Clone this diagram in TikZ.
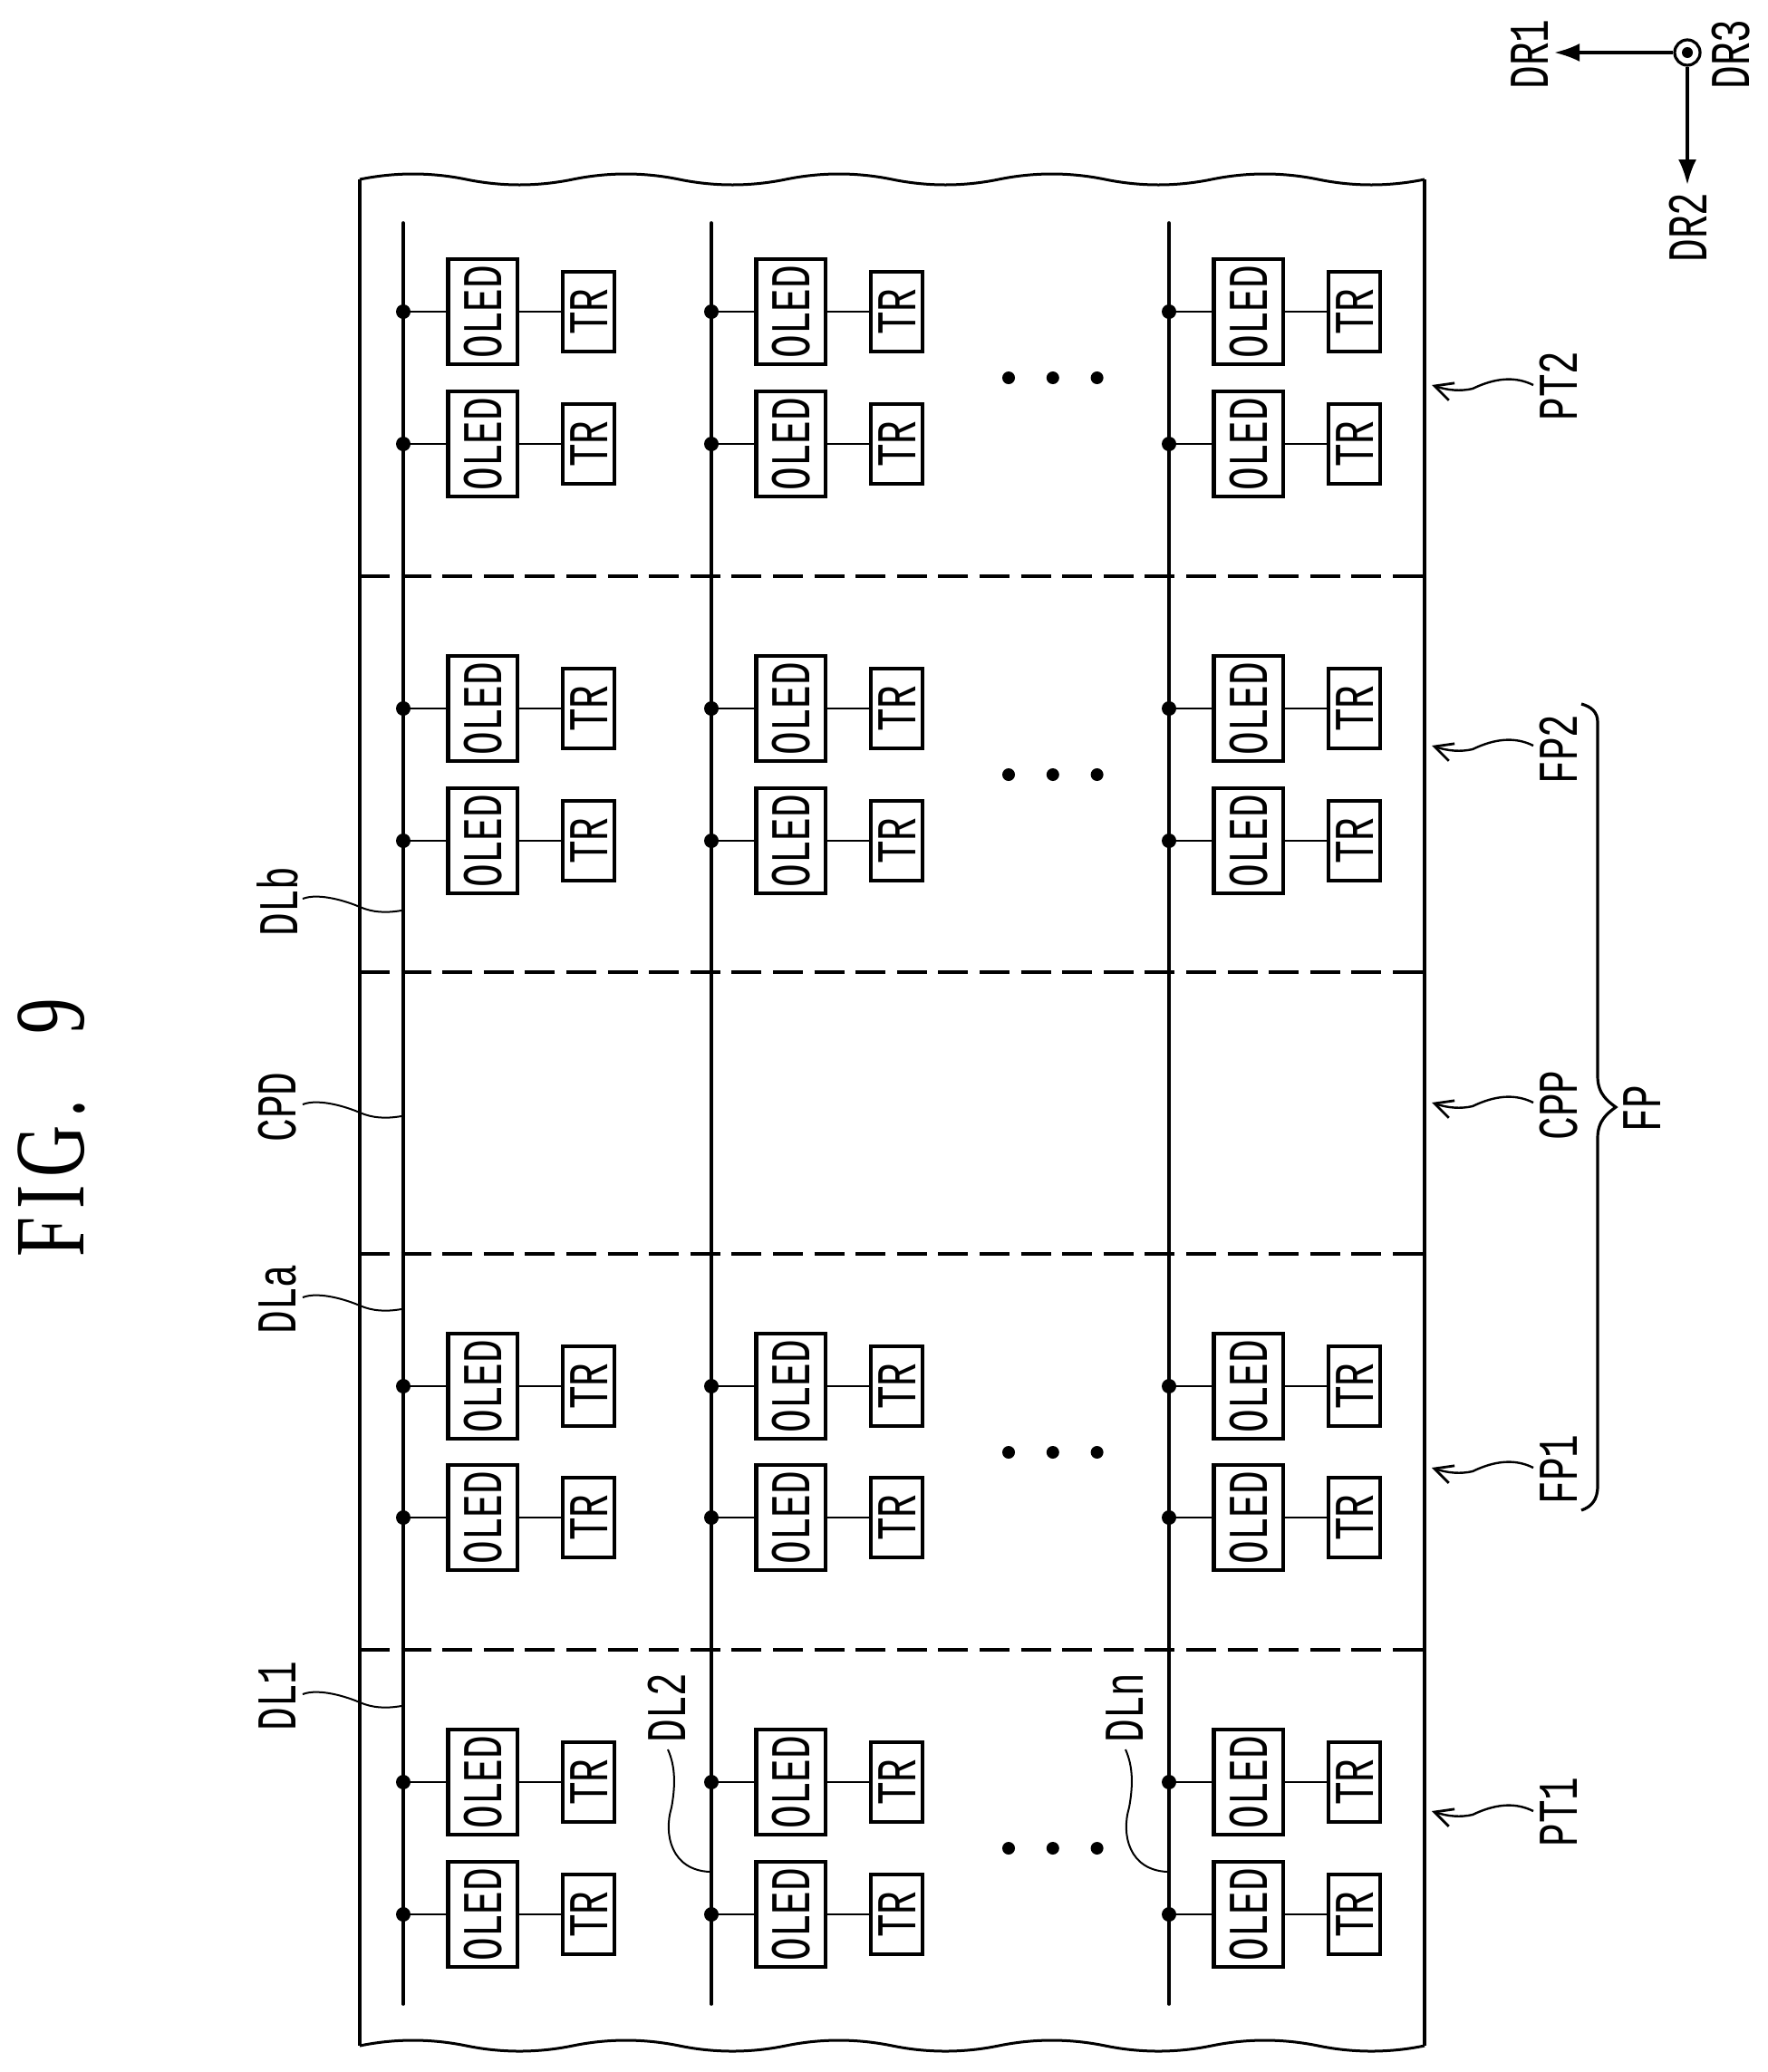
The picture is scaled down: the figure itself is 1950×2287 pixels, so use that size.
\documentclass[tikz,border=0pt]{standalone}
\usepackage{fontspec}
\usepackage{tikz}
\usetikzlibrary{positioning, arrows.meta}
\setmainfont{Liberation Mono}[FakeStretch=0.69]
\newfontfamily\figfont{Liberation Serif}[FakeStretch=0.72, LetterSpace=8]
\newcommand{\lblsize}{\fontsize{31}{33}\selectfont}
\tikzstyle{oled} = [rectangle, draw, line width=2.2pt, minimum height=58pt, minimum width=38.2pt,
    inner sep=0pt, font=\lblsize]
\tikzstyle{trbox} = [rectangle, draw, line width=2pt, minimum height=44pt, minimum width=28.5pt,
    inner sep=0pt, font=\lblsize]
\tikzstyle{junction} = [circle, fill, minimum size=8pt, inner sep=0pt]
\tikzstyle{tag} = [rotate=90, anchor=west, inner sep=0pt, xshift=-1.5pt, font=\lblsize]
\tikzstyle{wire} = [draw, line width=1.4pt]
\tikzstyle{dataline} = [draw, line width=1.8pt, line cap=round]
\tikzstyle{edgeline} = [draw, line width=1.7pt]
\tikzstyle{waveline} = [draw, line width=1.5pt]
\tikzstyle{divider} = [draw, line width=1.7pt, dash pattern=on 16.5pt off 6.3pt]
\tikzstyle{lead} = [draw, line width=1pt]
\tikzstyle{leadarrow} = [lead, line width=1.2pt, -{Straight Barb[length=10pt,width=10pt,line width=1.4pt]}]
\tikzstyle{axis} = [draw, line width=1.7pt, -{Latex[length=14pt,width=10pt]}]
\begin{document}
\begin{tikzpicture}[x=0.5pt, y=-0.5pt]
  \useasboundingbox (0,0) rectangle (1950,2287);

  % Place panel
  \draw[edgeline] (397,198) -- (397,2258);
  \draw[edgeline] (1572,198) -- (1572,2258);
  \foreach \yb in {198,2258} {
    \foreach \k in {0,...,4} {
      \pgfmathsetmacro{\xa}{397+235*\k}
      \draw[waveline] (\xa,\yb) .. controls +(39,-8) and +(-39,-8) .. ({\xa+117.5},\yb)
        .. controls +(39,8) and +(-39,8) .. ({\xa+235},\yb);
    }
  }
  \foreach \yd in {636,1073,1384,1821} {
    \draw[divider] (397,\yd) -- (1572,\yd);
  }

  % Place data lines and pixels
  \foreach \col/\cx in {a/445,b/785,c/1290} {
    \coordinate (top\col) at (\cx,246);
    \coordinate (bot\col) at (\cx,2212);
    \path[dataline] (top\col) -- (bot\col);
    \foreach \row/\cy in {1/344,2/490,3/782,4/928,5/1530,6/1675,7/1967,8/2113} {
      \node[junction] (dot\col\row) at (\cx,\cy) {};
      \node[oled, right of=dot\col\row, node distance=43.9pt] (oled\col\row) {\rotatebox{90}{OLED}};
      \node[trbox, right of=oled\col\row, node distance=58.4pt] (tr\col\row) {\rotatebox{90}{TR}};
      \path[wire] (dot\col\row) -- (oled\col\row);
      \path[wire] (oled\col\row) -- (tr\col\row);
    }
  }

  % Dots between columns
  \foreach \grp/\ym in {1/417,2/855,3/1603,4/2040} {
    \node[junction, minimum size=7pt] (gapa\grp) at (1113,\ym) {};
    \node[junction, minimum size=7pt, right of=gapa\grp, node distance=24.4pt] (gapb\grp) {};
    \node[junction, minimum size=7pt, right of=gapb\grp, node distance=24.4pt] (gapc\grp) {};
  }

  % Left labels
  \foreach \name/\ybot/\yl in {DL1/1908/1870,DLa/1470/1432,CPD/1258/1219,DLb/1031/992} {
    \node[tag] (lbl\name) at (306,\ybot) {\name};
    \coordinate (from\name) at (334,\yl);
    \coordinate (mid\name) at (397,{\yl+9});
    \coordinate (to\name) at (443,{\yl+13});
    \path[lead] (from\name) .. controls +(18,-7) and +(-14,-6) .. (mid\name)
      .. controls +(14,6) and +(-18,3) .. (to\name);
  }

  % Labels inside the panel
  \foreach \name/\xl/\xe in {DL2/736/783,DLn/1241/1288} {
    \node[tag] (lbl\name) at (\xl,1921) {\name};
    \coordinate (from\name) at ({\xl+1},1931);
    \coordinate (mid\name) at ({\xl+5},1995);
    \coordinate (to\name) at (\xe,2066);
    \path[lead] (from\name) .. controls +(9,20) and +(4,-22) .. (mid\name)
      .. controls +(-9,30) and +(-42,-2) .. (to\name);
  }

  % Right labels
  \foreach \name/\ybot/\yl in {PT2/462/425,FP2/863/823,CPP/1256/1217,FP1/1658/1620,PT1/2036/1999} {
    \node[tag] (lbl\name) at (1720,\ybot) {\name};
    \coordinate (from\name) at (1692,\yl);
    \coordinate (mid\name) at (1625,{\yl+4});
    \coordinate (tip\name) at (1580,\yl);
    \path[leadarrow] (from\name) .. controls +(-20,-10) and +(25,-12) .. (mid\name)
      .. controls +(-13,3) and +(18,6) .. (tip\name);
  }

  % Brace
  \node[tag] (lblFP) at (1812,1247) {FP};
  \draw[line width=1.6pt] (1745,777) .. controls (1756,780) and (1763,786) .. (1763,797)
    -- (1763,1188) .. controls (1763,1208) and (1775,1216) .. (1783,1222)
    .. controls (1775,1228) and (1763,1236) .. (1763,1256)
    -- (1763,1640) .. controls (1763,1656) and (1756,1663) .. (1745,1667);

  % Axes
  \node[circle, draw, line width=1.6pt, fill=white, minimum size=14pt, inner sep=0pt] (origin) at (1862,58) {};
  \node[junction, minimum size=6pt] (origindot) at (1862,58) {};
  \coordinate (tipDR1) at (1715,58);
  \coordinate (tipDR2) at (1862,204);
  \path[axis] (origin) -- (tipDR1);
  \path[axis] (origin) -- (tipDR2);
  \node[tag] (lblDR1) at (1688,96) {DR1};
  \node[tag] (lblDR2) at (1863,287) {DR2};
  \node[tag] (lblDR3) at (1910,96) {DR3};

  % Title
  \node[rotate=90, anchor=west, inner sep=0pt, font=\figfont\fontsize{55}{60}\selectfont] (title) at (57,1388) {FIG.\hspace{22pt} 9};
\end{tikzpicture}
\end{document}
